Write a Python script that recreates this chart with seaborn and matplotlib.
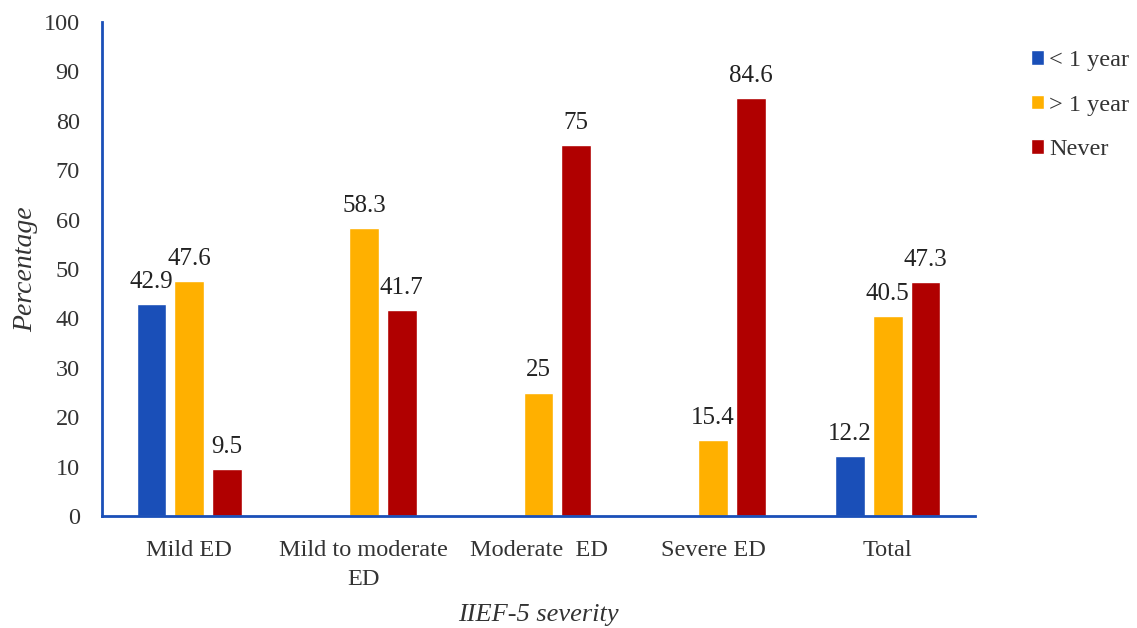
import matplotlib
matplotlib.use("Agg")
import matplotlib.pyplot as plt
import seaborn as sns
import pandas as pd
import numpy as np

categories = ["Mild ED", "Mild to moderate\nED", "Moderate  ED", "Severe ED", "Total"]
series = ["< 1 year", "> 1 year", "Never"]
less_1_year = [42.9, 0, 0, 0, 12.2]
more_1_year = [47.6, 58.3, 25, 15.4, 40.5]
never = [9.5, 41.7, 75, 84.6, 47.3]
colors = ["#1a4fb8", "#ffb000", "#b00000"]

sns.set_theme(style="white")
plt.rcParams['font.family'] = ['Liberation Serif', 'DejaVu Serif']

rows = []
for s, vals in zip(series, [less_1_year, more_1_year, never]):
    for c, v in zip(categories, vals):
        rows.append({"cat": c, "series": s, "value": v})
df = pd.DataFrame(rows)

fig = plt.figure(figsize=(11.37, 6.28), dpi=100)
ax = fig.add_axes([102/1137, 1 - 516/628, (975-102)/1137, (516-22)/628])

sns.barplot(data=df, x="cat", y="value", hue="series", order=categories,
            hue_order=series, palette=colors, width=0.65, gap=0.21,
            saturation=1, ax=ax, legend=True)

for cont in ax.containers:
    labels = [f"{b.get_height():g}" if b.get_height() > 0 else "" for b in cont]
    ax.bar_label(cont, labels=labels, padding=8, fontsize=18, color="#222222")

ax.set_ylim(0, 100)
ax.set_xlim(-0.5, 4.5)
ax.set_yticks(range(0, 101, 10))
ax.tick_params(axis='both', labelsize=17.5, colors="#333333", length=0)
ax.tick_params(axis='y', pad=16)
ax.tick_params(axis='x', pad=17)
for lbl in ax.get_xticklabels():
    lbl.set_linespacing(1.5)
    lbl.set_color("#333333")

for s in ["top", "right"]:
    ax.spines[s].set_visible(False)
for s in ["left", "bottom"]:
    ax.spines[s].set_color("#1a4fb8")
    ax.spines[s].set_linewidth(2)

ax.set_xlabel("IIEF-5 severity", fontsize=19, fontstyle="italic", color="#333333", labelpad=10)
ax.set_ylabel("Percentage", fontsize=20, fontstyle="italic", color="#333333", labelpad=4)

leg = ax.legend(loc="upper left", frameon=False,
                fontsize=17.5, handlelength=0.55, handleheight=0.55, handletextpad=0.2,
                labelspacing=0.97, borderpad=0, borderaxespad=0)
leg.set_bbox_to_anchor((1031/1137, 1 - 50/628), transform=fig.transFigure)
for t in leg.get_texts():
    t.set_color("#333333")

fig.savefig("out.png", dpi=100)
